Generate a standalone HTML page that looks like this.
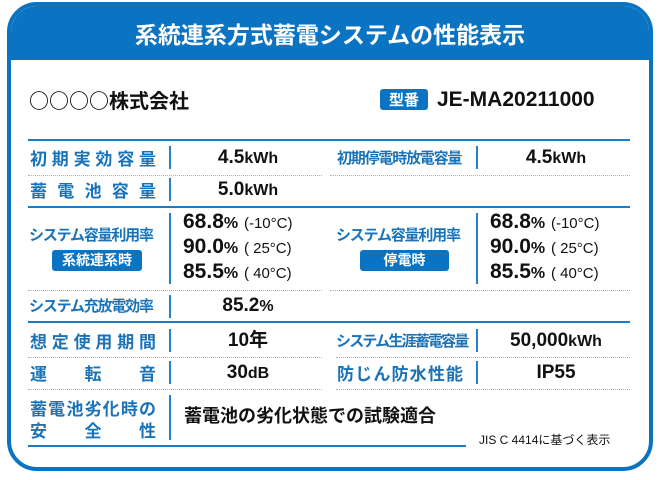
<!DOCTYPE html><html><head><meta charset="utf-8"><style>
body{margin:0;width:660px;height:480px;background:#fff;position:relative;overflow:hidden;font-family:"Liberation Sans","Noto Sans CJK JP",sans-serif;}
.box{position:absolute;left:7px;top:2px;width:638px;height:461px;border:4px solid #0b74c2;border-radius:30px;overflow:hidden;}
.hd{position:absolute;left:0;top:0;right:0;height:54px;background:#0b74c2;color:#fff;font-weight:bold;font-size:23px;text-align:center;line-height:54px;font-family:"Noto Sans CJK JP",sans-serif;}
.a{position:absolute;white-space:nowrap;}
.lb{position:absolute;color:#1a73b8;font-weight:bold;font-size:17px;text-align:justify;text-align-last:justify;width:126px;line-height:20px;font-family:"Noto Sans CJK JP",sans-serif;}
.lbs{position:absolute;color:#1a73b8;font-weight:bold;font-size:15px;white-space:nowrap;letter-spacing:-1.2px;line-height:20px;font-family:"Noto Sans CJK JP",sans-serif;}
.v{position:absolute;font-weight:bold;font-size:19px;color:#111;text-align:center;white-space:nowrap;line-height:20px;}
.v small{font-size:16px;}
.badge{position:absolute;background:#0b74c2;color:#fff;font-weight:bold;font-size:14px;text-align:center;border-radius:3px;line-height:21px;font-family:"Noto Sans CJK JP",sans-serif;}
.t3{position:absolute;font-weight:bold;font-size:21px;color:#111;line-height:24px;white-space:nowrap;}
.t3 small{font-size:16px;}
.t3 i{font-style:normal;font-weight:normal;font-size:15px;}
</style></head><body>
<div class="box"><div class="hd">系統連系方式蓄電システムの性能表示</div></div>
<div class="a" style="left:29px;top:86px;font-size:20px;font-weight:bold;color:#111;font-family:'Noto Sans CJK JP',sans-serif;line-height:28px;">○○○○株式会社</div>
<div class="badge" style="left:380px;top:89px;width:48px;height:21px;font-size:15px;">型番</div>
<div class="a" style="left:437px;top:88px;font-size:21px;font-weight:bold;color:#111;">JE-MA20211000</div>

<div class="sl" style="position:absolute;left:28px;top:139px;width:602px;height:2px;background:#1a7cc5;"></div>
<div class="lb" style="left:30px;top:148px;">初期実効容量</div>
<div style="position:absolute;left:169px;top:146px;height:23px;width:1.5px;background:#2a80c8;"></div>
<div class="v" style="left:170px;top:148px;width:156px;">4.5<small>kWh</small></div>
<div class="lbs" style="left:337px;top:148px;">初期停電時放電容量</div>
<div style="position:absolute;left:476px;top:146px;height:23px;width:1.5px;background:#2a80c8;"></div>
<div class="v" style="left:478px;top:148px;width:156px;">4.5<small>kWh</small></div>
<div style="position:absolute;left:28px;top:175px;width:294px;border-top:1.5px dotted #8fb8dc;"></div>
<div style="position:absolute;left:330px;top:175px;width:300px;border-top:1.5px dotted #8fb8dc;"></div>

<div class="lb" style="left:30px;top:180px;">蓄電池容量</div>
<div style="position:absolute;left:169px;top:178px;height:23px;width:1.5px;background:#2a80c8;"></div>
<div class="v" style="left:170px;top:180px;width:156px;">5.0<small>kWh</small></div>
<div style="position:absolute;left:28px;top:206px;width:602px;height:2px;background:#1a7cc5;"></div>

<div class="lbs" style="left:29px;top:225px;">システム容量利用率</div>
<div class="badge" style="left:52px;top:250px;width:90px;height:21px;">系統連系時</div>
<div style="position:absolute;left:169px;top:213px;height:71px;width:1.5px;background:#2a80c8;"></div>
<div class="t3" style="left:183px;top:210px;">68.8<small>%</small> <i>(-10°C)</i></div>
<div class="t3" style="left:183px;top:235px;">90.0<small>%</small> <i>( 25°C)</i></div>
<div class="t3" style="left:183px;top:260px;">85.5<small>%</small> <i>( 40°C)</i></div>
<div class="lbs" style="left:336px;top:225px;">システム容量利用率</div>
<div class="badge" style="left:360px;top:250px;width:89px;height:21px;">停電時</div>
<div style="position:absolute;left:476px;top:213px;height:71px;width:1.5px;background:#2a80c8;"></div>
<div class="t3" style="left:490px;top:210px;">68.8<small>%</small> <i>(-10°C)</i></div>
<div class="t3" style="left:490px;top:235px;">90.0<small>%</small> <i>( 25°C)</i></div>
<div class="t3" style="left:490px;top:260px;">85.5<small>%</small> <i>( 40°C)</i></div>
<div style="position:absolute;left:28px;top:290px;width:294px;border-top:1.5px dotted #8fb8dc;"></div>
<div style="position:absolute;left:330px;top:290px;width:300px;border-top:1.5px dotted #8fb8dc;"></div>

<div class="lbs" style="left:29px;top:296px;">システム充放電効率</div>
<div style="position:absolute;left:169px;top:295px;height:23px;width:1.5px;background:#2a80c8;"></div>
<div class="v" style="left:170px;top:296px;width:156px;">85.2<small>%</small></div>
<div style="position:absolute;left:28px;top:321px;width:602px;height:2px;background:#1a7cc5;"></div>

<div class="lb" style="left:30px;top:331px;">想定使用期間</div>
<div style="position:absolute;left:169px;top:329px;height:23px;width:1.5px;background:#2a80c8;"></div>
<div class="v" style="left:170px;top:331px;width:156px;">10年</div>
<div class="lbs" style="left:336px;top:331px;letter-spacing:-1.8px;">システム生涯蓄電容量</div>
<div style="position:absolute;left:476px;top:329px;height:23px;width:1.5px;background:#2a80c8;"></div>
<div class="v" style="left:478px;top:331px;width:156px;">50,000<small>kWh</small></div>
<div style="position:absolute;left:28px;top:357px;width:294px;border-top:1.5px dotted #8fb8dc;"></div>
<div style="position:absolute;left:336px;top:357px;width:294px;border-top:1.5px dotted #8fb8dc;"></div>

<div class="lb" style="left:30px;top:363px;">運転音</div>
<div style="position:absolute;left:169px;top:361px;height:23px;width:1.5px;background:#2a80c8;"></div>
<div class="v" style="left:170px;top:363px;width:156px;">30<small>dB</small></div>
<div class="lb" style="left:337px;top:363px;">防じん防水性能</div>
<div style="position:absolute;left:476px;top:361px;height:23px;width:1.5px;background:#2a80c8;"></div>
<div class="v" style="left:478px;top:363px;width:156px;">IP55</div>
<div style="position:absolute;left:28px;top:389px;width:294px;border-top:1.5px dotted #8fb8dc;"></div>
<div style="position:absolute;left:336px;top:389px;width:294px;border-top:1.5px dotted #8fb8dc;"></div>

<div class="lb" style="left:30px;top:398px;">蓄電池劣化時の</div>
<div class="lb" style="left:30px;top:420px;">安全性</div>
<div style="position:absolute;left:169px;top:395px;height:45px;width:1.5px;background:#2a80c8;"></div>
<div class="a" style="left:184px;top:402px;font-size:18px;font-weight:bold;color:#111;font-family:'Noto Sans CJK JP',sans-serif;line-height:26px;">蓄電池の劣化状態での試験適合</div>
<div style="position:absolute;left:28px;top:445px;width:438px;height:2px;background:#1a7cc5;"></div>
<div class="a" style="left:479px;top:431px;font-size:12px;color:#111;">JIS C 4414に基づく表示</div>
</body></html>
